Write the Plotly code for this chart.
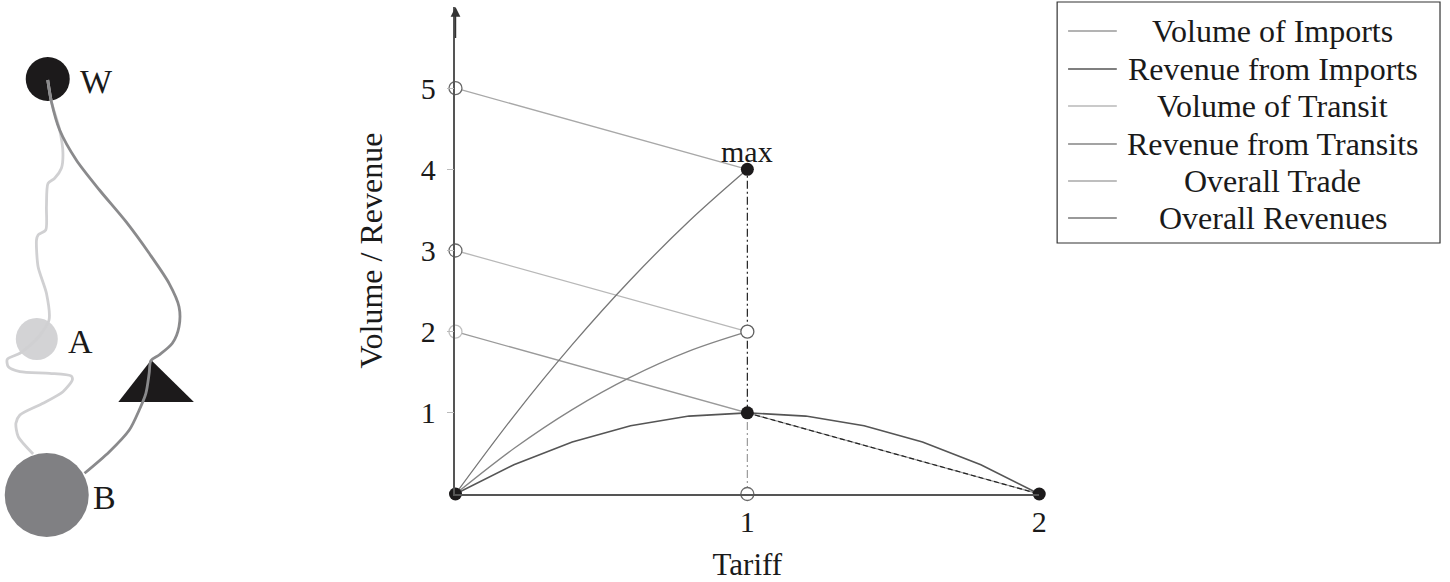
import plotly.graph_objs as go

# main chart data
tariff_line = [0, 1, 2]
volume_imports = [2, 1, 0]
tariff_short = [0, 1]
volume_transit = [3, 2]
overall_trade = [5, 4]

tariff_imports_curve = [0, 0.2, 0.4, 0.6, 0.8, 1.0, 1.2, 1.4, 1.6, 1.8, 2.0]
revenue_imports = [0, 0.36, 0.64, 0.84, 0.96, 1.0, 0.96, 0.84, 0.64, 0.36, 0]
tariff_curve = [0, 0.2, 0.4, 0.6, 0.8, 1.0]
revenue_transit = [0, 0.56, 1.04, 1.44, 1.76, 2.0]
overall_revenues = [0, 0.96, 1.84, 2.64, 3.36, 4.0]

# helper lines at the optimum tariff
max_upper_x = [1, 1]
max_upper_y = [1, 4]
max_lower_x = [1, 1]
max_lower_y = [0, 1]
dashed_x = [1, 2]
dashed_y = [1, 0]

open_x = [0, 0, 0, 1, 1]
open_y = [5, 3, 2, 2, 0]
filled_x = [0, 1, 1, 2]
filled_y = [0, 4, 1, 0]

y_ticks = [1, 2, 3, 4, 5]
x_ticks = [1, 2]

series_names = ["Volume of Imports", "Revenue from Imports", "Volume of Transit",
                "Revenue from Transits", "Overall Trade", "Overall Revenues"]
series_colors = ["#9a9a9a", "#555555", "#b8b8b8", "#858585", "#a8a8a8", "#777777"]

# left schematic (in page pixels)
node_names = ["W", "A", "B"]
node_x = [48, 37, 47]
node_y = [79, 339, 495]
node_size = [44, 42, 84]
node_colors = ["#1c1a1b", "#d3d3d5", "#808083"]

tri_x = [119, 195, 152, 119]
tri_y = [402, 402, 360, 402]

light_path_x = [48, 51.7, 60, 63.3, 61.7, 55, 48.3, 46.7, 46, 38.3, 36.7, 38.3, 46.7, 49.3,
                37, 20, 7.3, 8.3, 20, 50, 71.7, 72.7, 63.3, 43.3, 20, 16, 18.3, 33.3]
light_path_y = [80, 101.7, 130, 153.3, 168.3, 178.3, 183.3, 206.7, 230, 235, 240, 266.7, 293.3, 320,
                339, 353.3, 359.3, 366.7, 371.7, 373.3, 376, 380, 391.7, 403.3, 415, 423.3, 436.7, 454]
dark_path_x = [48, 51.7, 60, 76.7, 100, 126.7, 150, 170, 180, 180, 173.3, 160, 151.7,
               150, 146.7, 140, 130, 110, 85]
dark_path_y = [80, 101.7, 130, 160, 190, 221.7, 253.3, 283.3, 306.7, 326.7, 343.3, 355, 360.7,
               373.3, 393.3, 410, 430, 451.7, 473.3]

FONT = "Liberation Serif"
W, H = 1450, 582

fig = go.Figure()

# schematic on a hidden full-page axis
fig.add_trace(go.Scatter(x=node_x, y=node_y, mode="markers",
                         marker=dict(size=node_size, color=node_colors, opacity=1, line=dict(width=0)),
                         xaxis="x2", yaxis="y2", showlegend=False, hoverinfo="skip"))
fig.add_trace(go.Scatter(x=tri_x, y=tri_y, mode="lines", fill="toself", fillcolor="#1c1a1b",
                         line=dict(width=0, color="#1c1a1b"),
                         xaxis="x2", yaxis="y2", showlegend=False, hoverinfo="skip"))
fig.add_trace(go.Scatter(x=light_path_x, y=light_path_y, mode="lines",
                         line=dict(color="#d0d0d2", width=2.8, shape="spline", smoothing=0.7),
                         xaxis="x2", yaxis="y2", showlegend=False, hoverinfo="skip"))
fig.add_trace(go.Scatter(x=dark_path_x, y=dark_path_y, mode="lines",
                         line=dict(color="#8a8a8c", width=2.8, shape="spline", smoothing=0.8),
                         xaxis="x2", yaxis="y2", showlegend=False, hoverinfo="skip"))
label_gap = [8, 8, 2]
for name, nx, ny, ns, gap in zip(node_names, node_x, node_y, node_size, label_gap):
    fig.add_annotation(x=nx, y=ny, xref="x2", yref="y2", text=name, showarrow=False,
                       xanchor="left", yanchor="middle", xshift=ns / 2 + gap, yshift=-2,
                       font=dict(family=FONT, size=34, color="#1a1a1a"))

# main chart lines
fig.add_trace(go.Scatter(x=tariff_line, y=volume_imports, mode="lines", name=series_names[0],
                         line=dict(color=series_colors[0], width=1.3)))
fig.add_trace(go.Scatter(x=tariff_imports_curve, y=revenue_imports, mode="lines", name=series_names[1],
                         line=dict(color=series_colors[1], width=1.6)))
fig.add_trace(go.Scatter(x=tariff_short, y=volume_transit, mode="lines", name=series_names[2],
                         line=dict(color=series_colors[2], width=1.3)))
fig.add_trace(go.Scatter(x=tariff_curve, y=revenue_transit, mode="lines", name=series_names[3],
                         line=dict(color=series_colors[3], width=1.3, shape="spline")))
fig.add_trace(go.Scatter(x=tariff_short, y=overall_trade, mode="lines", name=series_names[4],
                         line=dict(color=series_colors[4], width=1.3)))
fig.add_trace(go.Scatter(x=tariff_curve, y=overall_revenues, mode="lines", name=series_names[5],
                         line=dict(color=series_colors[5], width=1.3, shape="spline")))

fig.add_trace(go.Scatter(x=max_lower_x, y=max_lower_y, mode="lines",
                         line=dict(color="#9a9a9a", width=1.2, dash="8px,3px,2px,3px"), showlegend=False))
fig.add_trace(go.Scatter(x=max_upper_x, y=max_upper_y, mode="lines",
                         line=dict(color="#222222", width=1.2, dash="8px,3px,2px,3px"), showlegend=False))
fig.add_trace(go.Scatter(x=dashed_x, y=dashed_y, mode="lines",
                         line=dict(color="#222222", width=1.2, dash="5px,3px"), showlegend=False))

fig.add_trace(go.Scatter(x=open_x, y=open_y, mode="markers", cliponaxis=False, showlegend=False,
                         marker=dict(size=13, color="white", opacity=1,
                                     line=dict(width=1.3, color=["#6a6a6a", "#6a6a6a", "#c0c0c0",
                                                                 "#606060", "#6a6a6a"]))))
fig.add_trace(go.Scatter(x=filled_x, y=filled_y, mode="markers", cliponaxis=False, showlegend=False,
                         marker=dict(size=13, color="#1c1a1b", line=dict(width=0))))

fig.add_annotation(x=1, y=4, text="max", showarrow=False, yanchor="bottom", yshift=-1,
                   font=dict(family=FONT, size=30, color="#1a1a1a"))
# arrow tip of the y axis
fig.add_annotation(x=0, y=6, ax=0, ay=5.6, axref="x", ayref="y", text="", showarrow=True,
                   arrowhead=2, arrowsize=1.3, arrowwidth=1.5, arrowcolor="#333333")

# hand-made legend box
lx0, lx1, ly0, ly1 = 1063, 1448, 2, 243
fig.add_shape(type="rect", xref="paper", yref="paper",
              x0=lx0 / W, x1=lx1 / W, y0=1 - ly1 / H, y1=1 - ly0 / H,
              line=dict(color="#333333", width=1.2), fillcolor="white", layer="below")
row_y = [31, 69, 106, 144, 181, 218]
for name, color, ry in zip(series_names, series_colors, row_y):
    fig.add_shape(type="line", xref="paper", yref="paper",
                  x0=1074 / W, x1=1123 / W, y0=1 - ry / H, y1=1 - ry / H,
                  line=dict(color=color, width=1.5))
    fig.add_annotation(xref="paper", yref="paper", x=1280 / W, y=1 - ry / H, text=name,
                       showarrow=False, xanchor="center", yanchor="middle",
                       font=dict(family=FONT, size=32, color="#1a1a1a"))

fig.update_layout(
    width=W, height=H,
    margin=dict(l=0, r=0, t=0, b=0),
    paper_bgcolor="white",
    plot_bgcolor="rgba(0,0,0,0)",
    showlegend=False,
    font=dict(family=FONT, size=30, color="#1a1a1a"),
    xaxis=dict(domain=[458 / W, 1045 / W], range=[0, 2], tickvals=x_ticks,
               showgrid=False, zeroline=False, showline=True, linecolor="#555555", linewidth=1.6,
               ticks="", ticklabelstandoff=0,
               title=dict(text="Tariff", standoff=22, font=dict(size=31))),
    yaxis=dict(domain=[(H - 494) / H, (H - 7) / H], range=[0, 6], tickvals=y_ticks,
               showgrid=False, zeroline=False, showline=True, linecolor="#555555", linewidth=1.6,
               ticks="outside", ticklen=7, tickcolor="#bbbbbb", ticklabelstandoff=5,
               title=dict(text="Volume / Revenue", standoff=28, font=dict(size=32))),
    xaxis2=dict(domain=[0, 1], range=[0, W], visible=False, anchor="y2"),
    yaxis2=dict(domain=[0, 1], range=[H, 0], visible=False, anchor="x2"),
)

fig.write_html("out.html", config={"displayModeBar": False},
               post_script="document.body.style.margin='0px';")
